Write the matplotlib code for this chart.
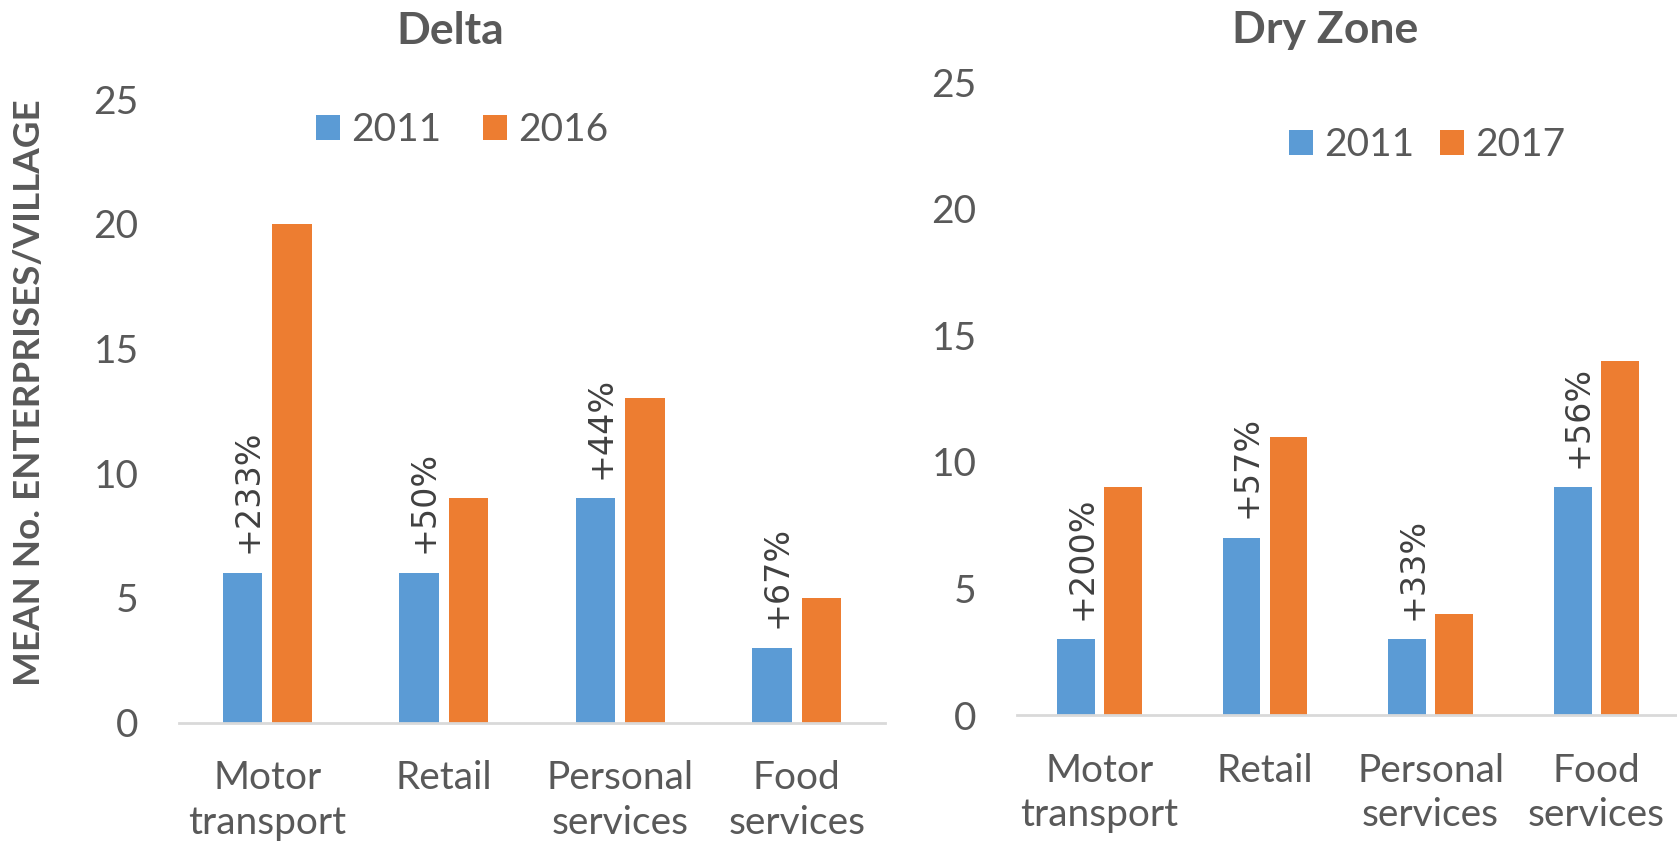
import matplotlib
matplotlib.use("Agg")
import matplotlib.pyplot as plt
import numpy as np

categories = ["Motor\ntransport", "Retail", "Personal\nservices", "Food\nservices"]
delta_2011 = [6, 6, 9, 3]
delta_2016 = [20, 9, 13, 5]
delta_pct = ["+233%", "+50%", "+44%", "+67%"]
dry_2011 = [3, 7, 3, 9]
dry_2017 = [9, 11, 4, 14]
dry_pct = ["+200%", "+57%", "+33%", "+56%"]
yticks = [0, 5, 10, 15, 20, 25]

BLUE = "#5b9bd5"
ORANGE = "#ed7d31"
GREY = "#595959"
plt.rcParams['font.family'] = ['Lato', 'DejaVu Sans']

fig = plt.figure(figsize=(16.77, 8.48), dpi=100)
W, H = 1677, 848

def make_ax(left, bottom_px, right, top_px):
    return fig.add_axes([left / W, 1 - bottom_px / H, (right - left) / W, (bottom_px - top_px) / H])

def draw(ax, a, b, pct, labels, legend_center, colspacing, off, w):
    x = np.arange(len(categories))
    ax.bar(x - off, a, w, color=BLUE, label=labels[0], zorder=2)
    ax.bar(x + off, b, w, color=ORANGE, label=labels[1], zorder=2)
    for xi, v, t in zip(x, a, pct):
        ax.annotate(t, (xi - off, v), xytext=(4, 14), textcoords="offset points",
                    rotation=90, ha="center", va="bottom", fontsize=24,
                    color="#404040", family=["DejaVu Sans"])
    ax.set_xlim(-0.5, 3.5)
    ax.set_ylim(0, 25)
    ax.set_yticks(yticks)
    ax.set_xticks(x)
    ax.set_xticklabels(categories, fontsize=28, color=GREY, linespacing=1.3)
    ax.tick_params(axis="y", length=0, pad=29, labelsize=28, labelcolor=GREY)
    ax.tick_params(axis="x", length=0, pad=27)
    for s in ["top", "right", "left"]:
        ax.spines[s].set_visible(False)
    ax.spines["bottom"].set_color("#d9d9d9")
    ax.spines["bottom"].set_linewidth(2)
    ax.legend(loc="center", bbox_to_anchor=(legend_center[0] / W, 1 - legend_center[1] / H),
              bbox_transform=fig.transFigure, ncol=2, frameon=False, fontsize=28,
              handlelength=0.62, handleheight=0.62, handletextpad=0.28,
              columnspacing=colspacing, labelcolor=GREY)

ax1 = make_ax(179, 722.5, 885, 99.3)
draw(ax1, delta_2011, delta_2016, delta_pct, ["2011", "2016"], (462, 130), 1.08, 0.141, 0.224)
ax2 = make_ax(1016.7, 715, 1679, 82.3)
draw(ax2, dry_2011, dry_2017, dry_pct, ["2011", "2017"], (1427, 145), 0.67, 0.142, 0.228)

fig.text(450 / W, 1 - 44.3 / H, "Delta", ha="center", va="baseline", fontsize=32,
         fontweight="bold", color=GREY)
fig.text(1325 / W, 1 - 43 / H, "Dry Zone", ha="center", va="baseline", fontsize=32,
         fontweight="bold", color=GREY)
fig.text(30 / W, 1 - 393 / H, "MEAN No. ENTERPRISES/VILLAGE", rotation=90,
         ha="center", va="center", fontsize=26.5, fontweight="bold", color=GREY)

fig.savefig("out.png", dpi=100)
